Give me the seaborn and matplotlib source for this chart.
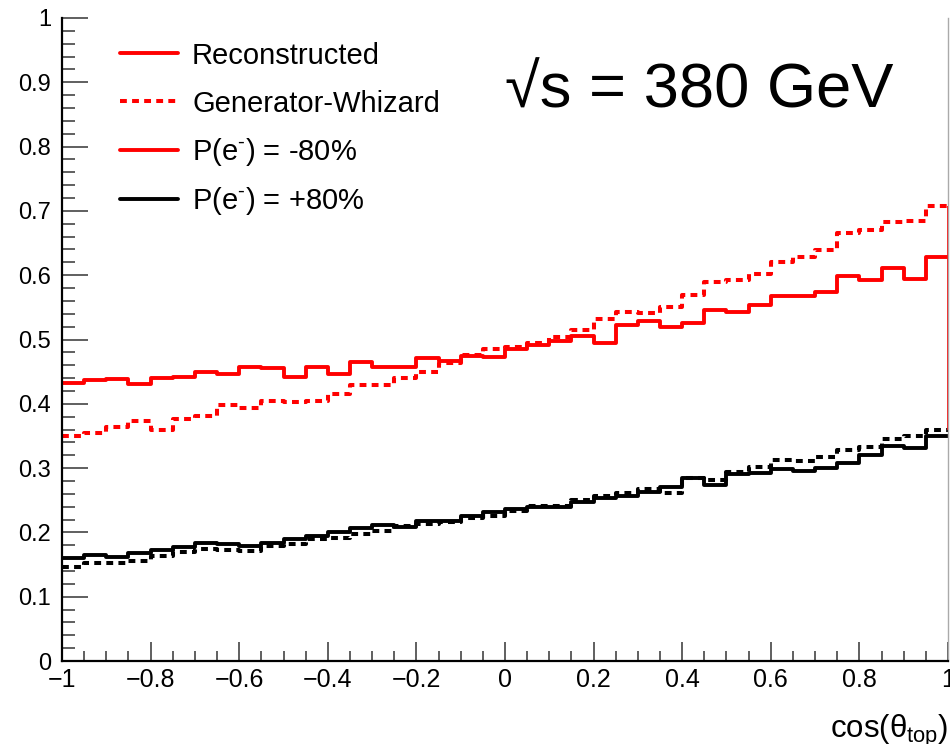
import numpy as np
import pandas as pd
import seaborn as sns
import matplotlib
matplotlib.use("Agg")
import matplotlib.pyplot as plt
from matplotlib.ticker import MultipleLocator

# 40 bins in cos(theta_top) from -1 to 1
bin_edges = np.linspace(-1.0, 1.0, 41)

# P(e-) = -80%, reconstructed
reco_m80 = [0.432, 0.437, 0.439, 0.431, 0.440, 0.441, 0.450, 0.446, 0.458, 0.455,
            0.442, 0.458, 0.447, 0.465, 0.458, 0.457, 0.471, 0.467, 0.475, 0.473,
            0.486, 0.491, 0.497, 0.505, 0.494, 0.522, 0.528, 0.520, 0.525, 0.546,
            0.543, 0.554, 0.568, 0.567, 0.574, 0.598, 0.592, 0.611, 0.594, 0.629]
# P(e-) = -80%, generator level (Whizard)
gen_m80 = [0.350, 0.355, 0.364, 0.374, 0.359, 0.376, 0.381, 0.398, 0.393, 0.404,
           0.403, 0.404, 0.415, 0.429, 0.430, 0.440, 0.450, 0.463, 0.476, 0.486,
           0.489, 0.494, 0.504, 0.515, 0.532, 0.543, 0.541, 0.551, 0.569, 0.589,
           0.592, 0.602, 0.620, 0.629, 0.639, 0.666, 0.671, 0.682, 0.684, 0.708]
# P(e-) = +80%, reconstructed
reco_p80 = [0.160, 0.165, 0.161, 0.168, 0.173, 0.177, 0.183, 0.182, 0.179, 0.183,
            0.189, 0.195, 0.200, 0.207, 0.212, 0.208, 0.217, 0.218, 0.225, 0.232,
            0.236, 0.240, 0.239, 0.248, 0.253, 0.256, 0.263, 0.271, 0.285, 0.273,
            0.291, 0.293, 0.298, 0.296, 0.300, 0.308, 0.320, 0.334, 0.332, 0.350]
# P(e-) = +80%, generator level (Whizard)
gen_p80 = [0.146, 0.152, 0.152, 0.156, 0.163, 0.170, 0.174, 0.172, 0.171, 0.179,
           0.182, 0.189, 0.192, 0.198, 0.202, 0.210, 0.213, 0.216, 0.222, 0.226,
           0.233, 0.241, 0.241, 0.250, 0.256, 0.261, 0.267, 0.262, 0.284, 0.282,
           0.294, 0.302, 0.313, 0.311, 0.318, 0.328, 0.333, 0.346, 0.350, 0.360]

legend_labels = ["Reconstructed", "Generator-Whizard",
                 "P(e$^{\\text{-}}$) = -80%", "P(e$^{\\text{-}}$) = +80%"]
x_ticklabels = ["\u22121", "\u22120.8", "\u22120.6", "\u22120.4", "\u22120.2",
                "0", "0.2", "0.4", "0.6", "0.8", "1"]
y_ticklabels = ["0", "0.1", "0.2", "0.3", "0.4", "0.5", "0.6", "0.7", "0.8", "0.9", "1"]

sns.set_theme(style="ticks")
plt.rcParams["font.family"] = ["Liberation Sans", "DejaVu Sans"]
plt.rcParams["mathtext.fontset"] = "custom"
plt.rcParams["mathtext.rm"] = "Liberation Sans"
plt.rcParams["mathtext.it"] = "Liberation Sans:italic"
plt.rcParams["mathtext.sf"] = "Liberation Sans"
plt.rcParams["text.color"] = "black"
plt.rcParams["axes.labelcolor"] = "black"
plt.rcParams["xtick.labelcolor"] = "black"
plt.rcParams["ytick.labelcolor"] = "black"

W, H = 950, 744
fig = plt.figure(figsize=(W / 100, H / 100), dpi=100)
ax = fig.add_axes([62 / W, 1 - 661 / H, 886 / W, 643 / H])

solid_lw = 2.8
dot_lw = 2.9
dots = (0, (1.7, 1.3))


def step_frame(vals):
    # histogram outline: each bin value held from its left edge to the next
    return pd.DataFrame({"cos": bin_edges, "val": list(vals) + [vals[-1]]})


for vals, col, dashed in [(gen_p80, "black", True), (reco_p80, "black", False),
                          (gen_m80, "red", True), (reco_m80, "red", False)]:
    sns.lineplot(data=step_frame(vals), x="cos", y="val", estimator=None,
                 sort=False, drawstyle="steps-post", color=col, ax=ax,
                 linewidth=dot_lw if dashed else solid_lw,
                 linestyle=dots if dashed else "-")

# closing edge of the generator histogram at cos = 1
ax.vlines(1.0, gen_p80[-1], gen_m80[-1], color="red", linewidth=1.3, clip_on=False)

ax.set_xlim(-1, 1)
ax.set_ylim(0, 1)
ax.xaxis.set_minor_locator(MultipleLocator(0.05))
ax.yaxis.set_minor_locator(MultipleLocator(0.02))
ax.set_xticks(np.round(np.arange(-1, 1.01, 0.2), 1))
ax.set_xticklabels(x_ticklabels)
ax.set_yticks(np.round(np.arange(0, 1.01, 0.1), 1))
ax.set_yticklabels(y_ticklabels)

ax.tick_params(axis="both", which="both", direction="in", color="#444444")
ax.tick_params(axis="y", which="major", length=19, width=1.2, pad=8, labelsize=17)
ax.tick_params(axis="y", which="minor", length=9.5, width=1.2)
ax.tick_params(axis="x", which="major", length=14, width=1.2, pad=5, labelsize=18)
ax.tick_params(axis="x", which="minor", length=7, width=1.2)

for side in ["left", "bottom"]:
    ax.spines[side].set_linewidth(1.6)
    ax.spines[side].set_color("black")
ax.spines["top"].set_visible(False)
ax.spines["right"].set_color("#aaaaaa")
ax.spines["right"].set_linewidth(1.0)

ax.set_ylabel("")
ax.set_xlabel("cos(θ$_{\\mathrm{top}}$)", loc="right", fontsize=22.5, labelpad=15)

# legend: line sample followed by its label, one row per entry
legend_styles = [dict(color="red", linewidth=solid_lw, linestyle="-"),
                 dict(color="red", linewidth=dot_lw, linestyle=dots),
                 dict(color="red", linewidth=solid_lw, linestyle="-"),
                 dict(color="black", linewidth=solid_lw, linestyle="-")]
row_y = [53, 101, 149.5, 198.5]
for label, style, py in zip(legend_labels, legend_styles, row_y):
    fy = 1 - py / H
    ax.plot([120 / W, 178 / W], [fy, fy], transform=fig.transFigure,
            clip_on=False, **style)
    fig.text(192 / W, 1 - (py + 10.5) / H, label, fontsize=21,
             ha="left", va="baseline")

fig.text(505 / W, 1 - 107 / H, "√s = 380 GeV", fontsize=45.5,
         ha="left", va="baseline")

fig.savefig("out.png", dpi=100)
